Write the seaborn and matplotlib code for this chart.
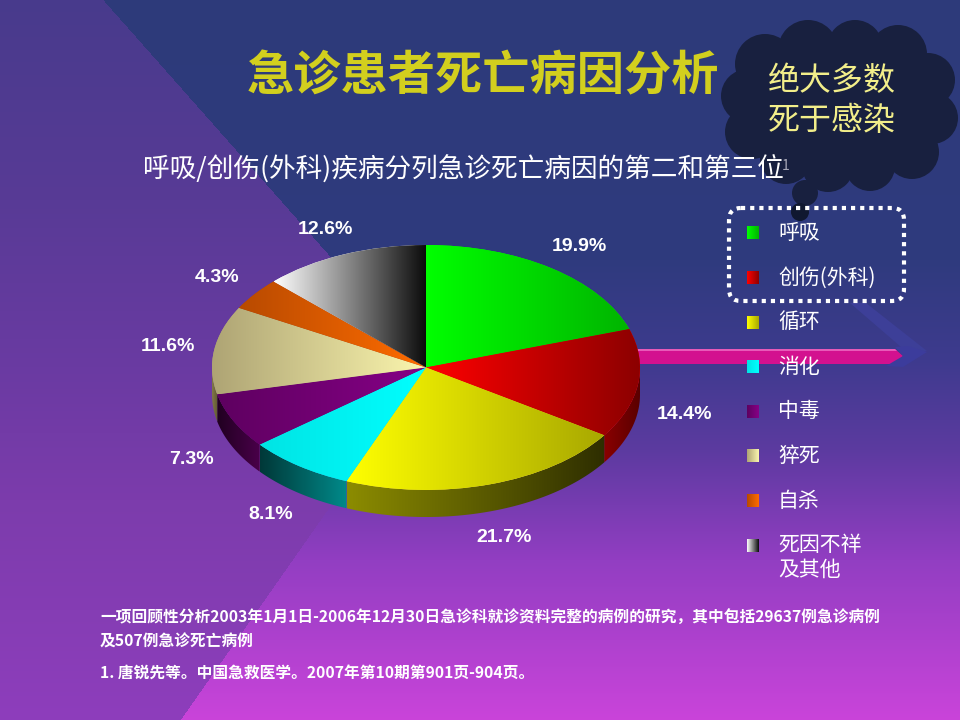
import numpy as np
import matplotlib
matplotlib.use("Agg")
import matplotlib.pyplot as plt
from matplotlib.patches import Polygon, Circle, Ellipse, FancyBboxPatch
import seaborn as sns

# ================================
# Data
# ================================
categories = ["呼吸", "创伤(外科)", "循环", "消化", "中毒", "猝死", "自杀", "死因不祥\n及其他"]
shares = [19.9, 14.4, 21.7, 8.1, 7.3, 11.6, 4.3, 12.6]
pct_labels = [f"{v:.1f}%" for v in shares]

# top face gradient (left -> right) and side gradient
top_left = ["#00ff00", "#ff0000", "#ffff00", "#00e4e4", "#5e0060", "#aea474", "#b84a00", "#ffffff"]
top_right = ["#00b400", "#8c0000", "#a8a800", "#00ffff", "#860086", "#fbf6ae", "#ff6c00", "#0a0a0a"]
side_left = ["#008000", "#8a0000", "#8c8c00", "#003838", "#200020", "#807848", "#803000", "#303030"]
side_right = ["#006000", "#5a0000", "#2e2e00", "#008a8a", "#4a004a", "#605830", "#602000", "#202020"]

title = "急诊患者死亡病因分析"
subtitle = "呼吸/创伤(外科)疾病分列急诊死亡病因的第二和第三位"
cloud_text = "绝大多数\n死于感染"
notes = [
    "一项回顾性分析2003年1月1日-2006年12月30日急诊科就诊资料完整的病例的研究，其中包括29637例急诊病例",
    "及507例急诊死亡病例",
    "1. 唐锐先等。中国急救医学。2007年第10期第901页-904页。",
]

# ================================
# Style
# ================================
sns.set_theme(style="white")
plt.rcParams["font.family"] = ["Noto Sans CJK SC", "DejaVu Sans"]

W, H = 960, 720
fig = plt.figure(figsize=(9.6, 7.2), dpi=100)

# ================================
# Background slide
# ================================
bg = fig.add_axes([0, 0, 1, 1], zorder=0)


def ramp(stops, y):
    ys = [s[0] for s in stops]
    return np.stack([np.interp(y, ys, [s[1][i] for s in stops]) for i in range(3)], axis=-1)


stops_a = [(0, (45, 58, 122)), (260, (47, 58, 126)), (360, (62, 58, 142)),
           (450, (92, 58, 160)), (560, (146, 62, 194)), (720, (202, 68, 218))]
stops_b = [(0, (72, 58, 140)), (200, (88, 58, 150)), (367, (106, 58, 162)),
           (500, (124, 60, 172)), (720, (142, 62, 188))]
yy, xx = np.mgrid[0:H, 0:W] + 0.5
cx0, cy0 = 428, 367
in_b = np.where(yy < cy0, xx < cx0 - (cy0 - yy) * 0.885, xx < cx0 - (yy - cy0) * 0.70)
img = np.where(in_b[..., None], ramp(stops_b, yy), ramp(stops_a, yy)) / 255
bg.imshow(img, extent=(0, W, H, 0), aspect="auto", zorder=0)

# arrow decoration behind the pie
bg.add_patch(Polygon([(850, 303), (866, 303), (927, 351), (908, 353)], closed=True,
                     fc="#3d3f98", ec="none", zorder=1))
bg.add_patch(Polygon([(600, 349), (895, 349), (903, 356), (895, 364), (600, 364)], closed=True,
                     fc="#d3118f", ec="none", zorder=1.2))
bg.add_patch(Polygon([(600, 349), (895, 349), (897, 351), (600, 351)], closed=True,
                     fc="#e85ab8", ec="none", zorder=1.3))
bg.add_patch(Polygon([(886, 366), (903, 356), (895, 347), (908, 346), (927, 352), (903, 367)],
                     closed=True, fc="#3c3c9c", ec="none", zorder=1.4))

# thought cloud
cloud_c = "#18203f"
lobes = [(765, 64, 30), (808, 50, 30), (855, 48, 28), (898, 54, 29), (928, 80, 27),
         (932, 118, 26), (912, 152, 27), (870, 166, 25), (828, 166, 26),
         (786, 158, 26), (752, 132, 27), (748, 96, 27)]
for lx, ly, lr in lobes:
    bg.add_patch(Circle((lx, ly), lr, fc=cloud_c, ec="none", zorder=2))
bg.add_patch(Ellipse((840, 106), 190, 125, fc=cloud_c, ec="none", zorder=2))
bg.add_patch(Circle((805, 193), 13, fc=cloud_c, ec="none", zorder=2))
bg.add_patch(Circle((800, 212), 9, fc="#101830", ec="none", zorder=2))
bg.text(832, 101, cloud_text, fontsize=23, color="#f2ee8a", ha="center", va="center",
        linespacing=1.3, zorder=6)

# titles
bg.text(483, 76, title, fontsize=34, color="#d2cf1e", fontweight="bold",
        ha="center", va="center", zorder=5)
bg.text(143, 170, subtitle, fontsize=19.2, color="white", ha="left", va="center", zorder=5)
bg.text(782, 166, "1", fontsize=10, color="#a8a8b8", ha="left", va="center", zorder=5)

# footnotes
for txt, ty in zip(notes, [618, 642, 673]):
    bg.text(100, ty, txt, fontsize=11.3, color="white", fontweight="bold",
            ha="left", va="center", zorder=5)

# ================================
# 3D-looking pie
# ================================
d = 27 / 122
pax = fig.add_axes([212 / W, 1 - 517 / H, 428 / W, 272 / H], zorder=2)
wedges, texts = pax.pie(
    shares, colors=top_left, startangle=90, counterclock=False,
    labels=pct_labels, labeldistance=1.22,
    wedgeprops=dict(linewidth=0),
    textprops=dict(color="white", fontsize=14, fontweight="bold",
                   fontfamily=["Liberation Sans", "DejaVu Sans"]),
)
grad = np.linspace(0, 1, 256).reshape(1, -1)
for i, w in enumerate(wedges):
    t = np.radians(np.linspace(w.theta1, w.theta2, 300))
    front = np.sin(t) <= 0
    if front.any():
        tf = t[front]
        top = np.column_stack([np.cos(tf), np.sin(tf)])
        bot = top - [0, d]
        side = Polygon(np.vstack([top, bot[::-1]]), closed=True, transform=pax.transData)
        cm = sns.blend_palette([side_left[i], side_right[i]], as_cmap=True)
        im = pax.imshow(grad, cmap=cm, extent=(top[:, 0].min(), top[:, 0].max(), -1 - d, 0),
                        aspect="auto", zorder=0.5, interpolation="bilinear")
        im.set_clip_path(side)
    bb = w.get_path().get_extents()
    cm = sns.blend_palette([top_left[i], top_right[i]], as_cmap=True)
    im = pax.imshow(grad, cmap=cm, extent=(bb.x0, bb.x1, bb.y0, bb.y1),
                    aspect="auto", zorder=1.5, interpolation="bilinear")
    im.set_clip_path(w)

for t in texts:
    x, y = t.get_position()
    if y < 0:
        t.set_position((x, y - d))
    t.set_ha("center")

pax.set_xlim(-1, 1)
pax.set_ylim(-1 - d, 1)
pax.set_aspect("auto")
pax.axis("off")

# ================================
# Legend (manual, slide style)
# ================================
leg_y0, leg_dy = 233, 44.6
for i, name in enumerate(categories):
    y = leg_y0 + i * leg_dy
    cm = sns.blend_palette([top_left[i], top_right[i]], as_cmap=True)
    bg.imshow(grad, cmap=cm, extent=(747, 759, y + 6.5, y - 6.5), aspect="auto",
              zorder=3, interpolation="bilinear")
    for j, line in enumerate(name.split("\n")):
        bg.text(778, y + j * 25, line, fontsize=15, color="white", ha="left", va="center", zorder=5)

bg.add_patch(FancyBboxPatch((729, 208), 175, 93, boxstyle="round,pad=0,rounding_size=12",
                            fill=False, ec="white", lw=3, ls=(0, (1, 1.2)), zorder=4))

bg.set_xlim(0, W)
bg.set_ylim(H, 0)
bg.axis("off")

fig.savefig("out.png", dpi=100)
